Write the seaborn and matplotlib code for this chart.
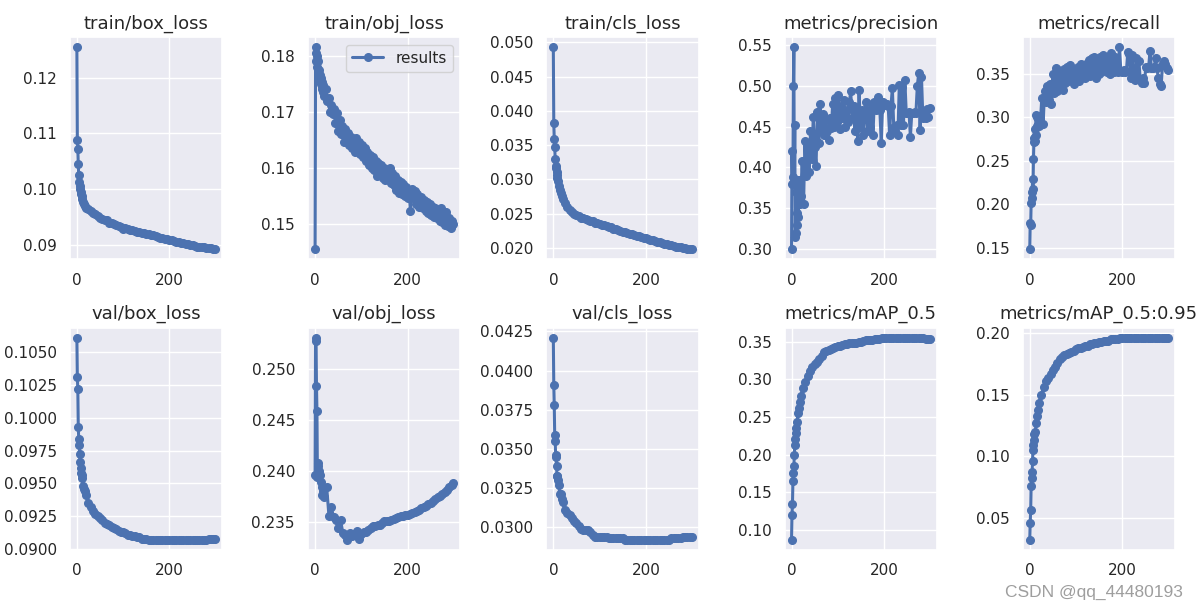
import numpy as np
import pandas as pd
import matplotlib
matplotlib.use("Agg")
import matplotlib.pyplot as plt
import seaborn as sns

# epochs que se leyeron del grafico (denso al inicio, cada 5 despues)
epochs = [0, 1, 2, 3, 4, 5, 6, 7, 8, 9, 10, 12, 14, 16, 18, 20] + list(range(25, 300, 5)) + [299]
# para las series ruidosas se leyo cada 3 epochs
epochs_dense = list(range(0, 20)) + list(range(20, 297, 3)) + [299]

train_box_loss = [0.1255, 0.1088, 0.1073, 0.1045, 0.1025, 0.1012, 0.1005, 0.1000, 0.0995, 0.0991, 0.0987,
                  0.0982, 0.0977, 0.0973, 0.0970, 0.0967,
                  0.0964, 0.0960, 0.0957, 0.0955, 0.0952, 0.0949, 0.0946, 0.0944, 0.0945, 0.0940,
                  0.0939, 0.0937, 0.0936, 0.0934, 0.0933, 0.0929, 0.0930, 0.0928, 0.0927, 0.0927,
                  0.0925, 0.0924, 0.0924, 0.0922, 0.0921, 0.0919, 0.0919, 0.0918, 0.0917, 0.0916,
                  0.0914, 0.0913, 0.0912, 0.0911, 0.0910, 0.0908, 0.0908, 0.0907, 0.0906, 0.0905,
                  0.0904, 0.0903, 0.0902, 0.0901, 0.0900, 0.0899, 0.0898, 0.0897, 0.0897, 0.0896,
                  0.0896, 0.0895, 0.0895, 0.0894, 0.0893, 0.0892]

train_obj_loss = [0.1454, 0.1790, 0.1815, 0.1805, 0.1800, 0.1780, 0.1790, 0.1770, 0.1765, 0.1775,
                  0.1757, 0.1765, 0.1750, 0.1760, 0.1745, 0.1752, 0.1740, 0.1748, 0.1735, 0.1742,
                  0.1728, 0.1740, 0.1718, 0.1725, 0.1700, 0.1712, 0.1695, 0.1705, 0.1680, 0.1698,
                  0.1665, 0.1685, 0.1660, 0.1675, 0.1645, 0.1668, 0.1650, 0.1662, 0.1640, 0.1655,
                  0.1635, 0.1650, 0.1628, 0.1652, 0.1630, 0.1645, 0.1625, 0.1640, 0.1618, 0.1635,
                  0.1612, 0.1628, 0.1605, 0.1622, 0.1600, 0.1618, 0.1595, 0.1612, 0.1585, 0.1608,
                  0.1590, 0.1605, 0.1582, 0.1600, 0.1578, 0.1595, 0.1580, 0.1600, 0.1572, 0.1590,
                  0.1568, 0.1585, 0.1560, 0.1578, 0.1555, 0.1575, 0.1552, 0.1570, 0.1550, 0.1565,
                  0.1545, 0.1560, 0.1523, 0.1562, 0.1545, 0.1558, 0.1535, 0.1552, 0.1530, 0.1545,
                  0.1548, 0.1528, 0.1542, 0.1522, 0.1538, 0.1518, 0.1535, 0.1515, 0.1530, 0.1512,
                  0.1528, 0.1510, 0.1522, 0.1505, 0.1528, 0.1502, 0.1515, 0.1498, 0.1520, 0.1495,
                  0.1510, 0.1492, 0.1505, 0.1500]

train_cls_loss = [0.0493, 0.0383, 0.0359, 0.0347, 0.0330, 0.0320, 0.0316, 0.0311, 0.0306, 0.0302, 0.0298,
                  0.0291, 0.0285, 0.0280, 0.0276, 0.0272,
                  0.0265, 0.0260, 0.0256, 0.0253, 0.0250, 0.0248, 0.0246, 0.0244, 0.0243, 0.0242,
                  0.0241, 0.0240, 0.0239, 0.0237, 0.0236, 0.0235, 0.0234, 0.0233, 0.0232, 0.0231,
                  0.0230, 0.0228, 0.0227, 0.0226, 0.0225, 0.0224, 0.0223, 0.0222, 0.0221, 0.0220,
                  0.0219, 0.0218, 0.0217, 0.0216, 0.0215, 0.0214, 0.0213, 0.0212, 0.0211, 0.0210,
                  0.0209, 0.0208, 0.0207, 0.0206, 0.0206, 0.0205, 0.0204, 0.0203, 0.0202, 0.0201,
                  0.0201, 0.0200, 0.0200, 0.0199, 0.0198, 0.0198]

precision = [0.300, 0.420, 0.380, 0.388, 0.500, 0.547, 0.380, 0.452, 0.315, 0.370,
             0.320, 0.345, 0.330, 0.385, 0.340, 0.380, 0.360, 0.385, 0.355, 0.375,
             0.365, 0.408, 0.355, 0.432, 0.390, 0.425, 0.395, 0.445, 0.410, 0.462,
             0.425, 0.402, 0.468, 0.430, 0.477, 0.445, 0.465, 0.440, 0.458, 0.445,
             0.434, 0.460, 0.448, 0.478, 0.450, 0.485, 0.455, 0.489, 0.447, 0.475,
             0.460, 0.482, 0.450, 0.470, 0.455, 0.480, 0.493, 0.460, 0.475, 0.445,
             0.470, 0.432, 0.495, 0.450, 0.470, 0.440, 0.465, 0.480, 0.445, 0.470,
             0.450, 0.478, 0.440, 0.480, 0.470, 0.475, 0.486, 0.470, 0.430, 0.480,
             0.478, 0.476, 0.478, 0.475, 0.440, 0.475, 0.497, 0.450, 0.445, 0.452,
             0.440, 0.501, 0.452, 0.498, 0.452, 0.507, 0.467, 0.467, 0.468, 0.437,
             0.467, 0.467, 0.468, 0.467, 0.500, 0.515, 0.446, 0.510, 0.460, 0.465,
             0.460, 0.472, 0.462, 0.473]

recall = [0.148, 0.178, 0.176, 0.201, 0.207, 0.214, 0.229, 0.217, 0.252, 0.272,
          0.276, 0.273, 0.287, 0.280, 0.303, 0.290, 0.300, 0.293, 0.298, 0.290,
          0.302, 0.295, 0.322, 0.293, 0.330, 0.318, 0.336, 0.320, 0.338, 0.315,
          0.350, 0.328, 0.357, 0.330, 0.355, 0.335, 0.352, 0.332, 0.356, 0.340,
          0.358, 0.342, 0.360, 0.345, 0.356, 0.338, 0.352, 0.345, 0.358, 0.342,
          0.362, 0.347, 0.358, 0.345, 0.362, 0.350, 0.366, 0.348, 0.368, 0.352,
          0.370, 0.345, 0.365, 0.350, 0.370, 0.352, 0.372, 0.355, 0.370, 0.352,
          0.368, 0.350, 0.374, 0.355, 0.352, 0.370, 0.355, 0.352, 0.381, 0.353,
          0.352, 0.355, 0.352, 0.354, 0.375, 0.373, 0.345, 0.372, 0.350, 0.343,
          0.368, 0.345, 0.365, 0.343, 0.340, 0.345, 0.340, 0.358, 0.357, 0.358,
          0.376, 0.357, 0.357, 0.358, 0.368, 0.357, 0.345, 0.338, 0.336, 0.360,
          0.365, 0.362, 0.357, 0.355]

val_box_loss = [0.1061, 0.1031, 0.1022, 0.0993, 0.0984, 0.0979, 0.0972, 0.0966, 0.0962, 0.0958, 0.0956,
                0.0954, 0.0948, 0.0946, 0.0944, 0.0941,
                0.0935, 0.0932, 0.0929, 0.0927, 0.0925, 0.0924, 0.0922, 0.0920, 0.0919, 0.0918,
                0.0917, 0.0916, 0.0915, 0.0914, 0.0913, 0.0913, 0.0912, 0.0911, 0.0911, 0.0910,
                0.0910, 0.0909, 0.0909, 0.0908, 0.0908, 0.0908, 0.0907, 0.0907, 0.0907, 0.0907,
                0.0907, 0.0907, 0.0907, 0.0907, 0.0907, 0.0907, 0.0907, 0.0907, 0.0907, 0.0907,
                0.0907, 0.0907, 0.0907, 0.0907, 0.0907, 0.0907, 0.0907, 0.0907, 0.0907, 0.0907,
                0.0907, 0.0907, 0.0908, 0.0908, 0.0908, 0.0908]

val_obj_loss = [0.2396, 0.2531, 0.2528, 0.2484, 0.2459, 0.2395, 0.2405, 0.2408, 0.2398, 0.2400, 0.2396,
                0.2390, 0.2385, 0.2377, 0.2381, 0.2375,
                0.2385, 0.2356, 0.2365, 0.2355, 0.2352, 0.2345, 0.2352, 0.2340, 0.2338, 0.2333,
                0.2340, 0.2337, 0.2339, 0.2342, 0.2334, 0.2339, 0.2341, 0.2341, 0.2343, 0.2345,
                0.2347, 0.2347, 0.2348, 0.2348, 0.2349, 0.2351, 0.2351, 0.2351, 0.2352, 0.2353,
                0.2354, 0.2355, 0.2356, 0.2356, 0.2357, 0.2357, 0.2358, 0.2359, 0.2360, 0.2361,
                0.2362, 0.2364, 0.2365, 0.2366, 0.2368, 0.2369, 0.2371, 0.2373, 0.2375, 0.2376,
                0.2378, 0.2380, 0.2382, 0.2385, 0.2387, 0.2389]

val_cls_loss = [0.0421, 0.0391, 0.0378, 0.0359, 0.0355, 0.0346, 0.0345, 0.0339, 0.0333, 0.0333, 0.0330,
                0.0327, 0.0321, 0.0321, 0.0318, 0.0316,
                0.0311, 0.0309, 0.0308, 0.0306, 0.0304, 0.0303, 0.0301, 0.0299, 0.0298, 0.0298,
                0.0298, 0.0297, 0.0295, 0.0294, 0.0294, 0.0294, 0.0294, 0.0294, 0.0294, 0.0293,
                0.0293, 0.0293, 0.0293, 0.0293, 0.0293, 0.0293, 0.0292, 0.0292, 0.0292, 0.0292,
                0.0292, 0.0292, 0.0292, 0.0292, 0.0292, 0.0292, 0.0292, 0.0292, 0.0292, 0.0292,
                0.0292, 0.0292, 0.0292, 0.0292, 0.0292, 0.0292, 0.0293, 0.0293, 0.0293, 0.0293,
                0.0293, 0.0294, 0.0294, 0.0294, 0.0294, 0.0294]

map_05 = [0.087, 0.120, 0.134, 0.165, 0.176, 0.185, 0.199, 0.213, 0.221, 0.229, 0.236,
          0.244, 0.255, 0.262, 0.270, 0.278,
          0.289, 0.297, 0.305, 0.311, 0.316, 0.320, 0.323, 0.327, 0.331, 0.336,
          0.338, 0.339, 0.340, 0.342, 0.343, 0.344, 0.345, 0.346, 0.347, 0.347,
          0.348, 0.348, 0.349, 0.349, 0.350, 0.350, 0.351, 0.352, 0.352, 0.353,
          0.353, 0.354, 0.354, 0.354, 0.355, 0.355, 0.355, 0.355, 0.355, 0.355,
          0.3555, 0.3555, 0.3555, 0.3555, 0.3555, 0.3555, 0.3555, 0.3555, 0.3553, 0.3553,
          0.355, 0.355, 0.3545, 0.354, 0.354, 0.354]

map_05_095 = [0.032, 0.046, 0.056, 0.076, 0.082, 0.087, 0.096, 0.105, 0.109, 0.113, 0.118,
              0.120, 0.127, 0.133, 0.138, 0.143,
              0.150, 0.156, 0.161, 0.164, 0.167, 0.170, 0.173, 0.176, 0.179, 0.181,
              0.182, 0.183, 0.184, 0.185, 0.186, 0.187, 0.188, 0.188, 0.189, 0.190,
              0.190, 0.191, 0.191, 0.192, 0.192, 0.193, 0.193, 0.194, 0.194, 0.194,
              0.195, 0.195, 0.195, 0.195, 0.196, 0.196, 0.196, 0.196, 0.196, 0.196,
              0.1965, 0.1965, 0.1965, 0.1965, 0.1965, 0.1965, 0.1965, 0.1965, 0.1965, 0.1965,
              0.1965, 0.1965, 0.1965, 0.1965, 0.1965, 0.1965]

titles = ["train/box_loss", "train/obj_loss", "train/cls_loss", "metrics/precision", "metrics/recall",
          "val/box_loss", "val/obj_loss", "val/cls_loss", "metrics/mAP_0.5", "metrics/mAP_0.5:0.95"]
series = [train_box_loss, train_obj_loss, train_cls_loss, precision, recall,
          val_box_loss, val_obj_loss, val_cls_loss, map_05, map_05_095]
xs = [epochs, epochs_dense, epochs, epochs_dense, epochs_dense,
      epochs, epochs, epochs, epochs, epochs]

sns.set_theme(style="darkgrid")
color = sns.color_palette("deep")[0]

fig, axes = plt.subplots(2, 5, figsize=(11.96, 6.07), dpi=100)
fig.subplots_adjust(left=0.0585, right=0.9824, top=0.939, bottom=0.094, wspace=0.566, hspace=0.306)
axes = axes.ravel()

for i, (ax, title, x, y) in enumerate(zip(axes, titles, xs, series)):
    df = pd.DataFrame({"epoch": x, "value": y})
    sns.lineplot(data=df, x="epoch", y="value", ax=ax, color=color, marker=".",
                 markersize=11, linewidth=2.2, markeredgecolor=color, markeredgewidth=1,
                 label="results" if i == 1 else None)
    ax.set_title(title, fontsize=13)
    ax.set_xlabel("")
    ax.set_ylabel("")
    ax.set_xticks([0, 200])

axes[1].legend(loc="upper right")

fig.text(0.989, 0.016, "CSDN @qq_44480193", ha="right", va="baseline", fontsize=12.5,
         color="#9e9e9e", family="Liberation Sans")
plt.savefig("out.png")
